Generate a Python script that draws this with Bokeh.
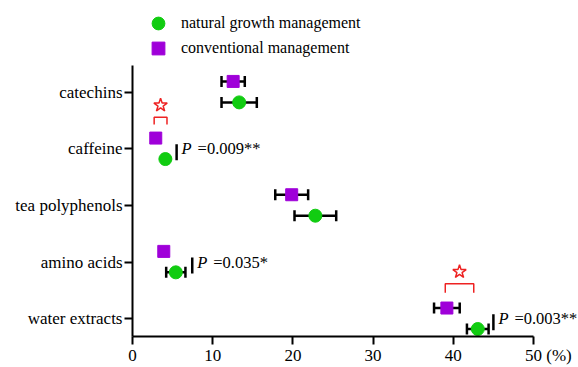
from bokeh.plotting import figure
from bokeh.models import FixedTicker, Legend, LegendItem, Label, Range1d
from bokeh.embed import file_html
from bokeh.resources import INLINE

# ---------------- data ----------------
categories = ["catechins", "caffeine", "tea polyphenols", "amino acids", "water extracts"]
series_names = ["natural growth management", "conventional management"]
natural_mean = [13.3, 4.1, 22.8, 5.4, 43.05]
natural_err = [2.2, 0.3, 2.6, 1.2, 1.35]
conventional_mean = [12.55, 2.9, 19.85, 3.9, 39.2]
conventional_err = [1.45, 0.3, 2.05, 0.3, 1.6]
x_ticks = [0, 10, 20, 30, 40, 50]
x_unit = "(%)"
p_categories = ["caffeine", "amino acids", "water extracts"]
p_values = ["0.009**", "0.035*", "0.003**"]
sig_categories = ["caffeine", "water extracts"]

# ---------------- styling / layout ----------------
FONT = "Liberation Serif"
GREEN = "#11cc11"
PURPLE = "#9f00d9"
RED = "#ee2222"
OFF_SQ = 0.19
OFF_CI = -0.18
CAP = 0.097
W, H = 578, 367
LEFT, BOTTOM = 132, 31
PX_X = 8.02      # px per % unit
PX_Y = 56.65     # px per category step
ROW_Y = [22.7, 48.3]   # legend row centres (px from top)

n = len(categories)
ypos = {c: n - i for i, c in enumerate(categories)}

frame_h = H - BOTTOM
y0 = 1 - (frame_h - 318.3) / PX_Y
y1 = y0 + frame_h / PX_Y
x1 = (W - LEFT) / PX_X

p = figure(width=W, height=H, x_range=Range1d(0, x1), y_range=Range1d(y0, y1),
           output_backend="svg", toolbar_location=None,
           min_border_left=LEFT, min_border_right=0, min_border_top=0, min_border_bottom=BOTTOM)
p.outline_line_color = None
p.xgrid.visible = False
p.ygrid.visible = False

def err_bars(means, errs, offset):
    ys = [ypos[c] + offset for c in categories]
    lo = [m - e for m, e in zip(means, errs)]
    hi = [m + e for m, e in zip(means, errs)]
    p.segment(x0=lo, x1=hi, y0=ys, y1=ys, line_color="black", line_width=2.5)
    p.segment(x0=lo, x1=lo, y0=[y - CAP for y in ys], y1=[y + CAP for y in ys],
              line_color="black", line_width=2.5)
    p.segment(x0=hi, x1=hi, y0=[y - CAP for y in ys], y1=[y + CAP for y in ys],
              line_color="black", line_width=2.5)
    return ys

ys_sq = err_bars(conventional_mean, conventional_err, OFF_SQ)
ys_ci = err_bars(natural_mean, natural_err, OFF_CI)

r_sq = p.scatter(x=conventional_mean, y=ys_sq, marker="square", size=12,
                 fill_color=PURPLE, line_color=PURPLE)
r_ci = p.scatter(x=natural_mean, y=ys_ci, marker="circle", size=13,
                 fill_color=GREEN, line_color=GREEN)

# significance brackets with stars
for c in sig_categories:
    i = categories.index(c)
    bx0 = conventional_mean[i] - 0.2
    bx1 = natural_mean[i] - 0.5 if c == "water extracts" else natural_mean[i] + 0.2
    ytop = ypos[c] + (0.56 if c == "caffeine" else 0.62)
    drop = 0.13 if c == "caffeine" else 0.16
    p.line(x=[bx0, bx0, bx1, bx1], y=[ytop - drop, ytop, ytop, ytop - drop],
           line_color=RED, line_width=1.5)
    p.scatter(x=[(bx0 + bx1) / 2], y=[ytop + 0.21], marker="star", size=14,
              fill_color="white", line_color=RED, line_width=1.5)

# P-value annotations
p_bar_x = {"caffeine": 5.5, "amino acids": 7.45, "water extracts": 45.0}
for c, pv in zip(p_categories, p_values):
    yc = ypos[c]
    bx = p_bar_x[c]
    p.segment(x0=[bx], x1=[bx], y0=[yc - 0.2], y1=[yc + 0.08], line_color="black", line_width=2.5)
    p.add_layout(Label(x=bx, y=yc, x_offset=5, text="P", text_font=FONT,
                       text_font_style="italic", text_font_size="16.5px", text_color="black",
                       text_baseline="middle", text_align="left"))
    p.add_layout(Label(x=bx, y=yc, x_offset=21, text="=" + pv, text_font=FONT,
                       text_font_size="16.5px", text_color="black",
                       text_baseline="middle", text_align="left"))

# axes
for ax in (p.xaxis[0], p.yaxis[0]):
    ax.axis_line_width = 2
    ax.axis_line_color = "black"
    ax.major_tick_line_width = 2
    ax.major_tick_line_color = "black"
    ax.major_tick_in = 0
    ax.major_tick_out = 8
    ax.minor_tick_line_color = None
    ax.major_label_text_font = FONT
    ax.major_label_text_font_size = "17px"
    ax.major_label_text_color = "black"

NB = "\u00a0"
p.xaxis.bounds = (0, x_ticks[-1])
p.xaxis.ticker = FixedTicker(ticks=x_ticks)
p.xaxis.major_label_overrides = {x_ticks[-1]: NB * 7 + str(x_ticks[-1]) + NB + x_unit}
p.xaxis.major_label_standoff = 1
p.yaxis.bounds = (y0, 5 + 26.7 / PX_Y)
p.yaxis.ticker = FixedTicker(ticks=[ypos[c] for c in categories])
p.yaxis.major_label_overrides = {ypos[c]: c for c in categories}
p.yaxis.major_label_standoff = 2

for name, rend, ry in zip(series_names, [r_ci, r_sq], ROW_Y):
    lg = Legend(items=[LegendItem(label=name, renderers=[rend])],
                location=(10, frame_h - (ry + 16)), orientation="vertical",
                glyph_width=32, glyph_height=32, label_standoff=7,
                padding=0, margin=0, border_line_color=None, background_fill_alpha=0,
                label_text_font=FONT, label_text_font_size="16px", label_text_color="black")
    p.add_layout(lg, "center")

open("out.html", "w").write(file_html(p, INLINE))
